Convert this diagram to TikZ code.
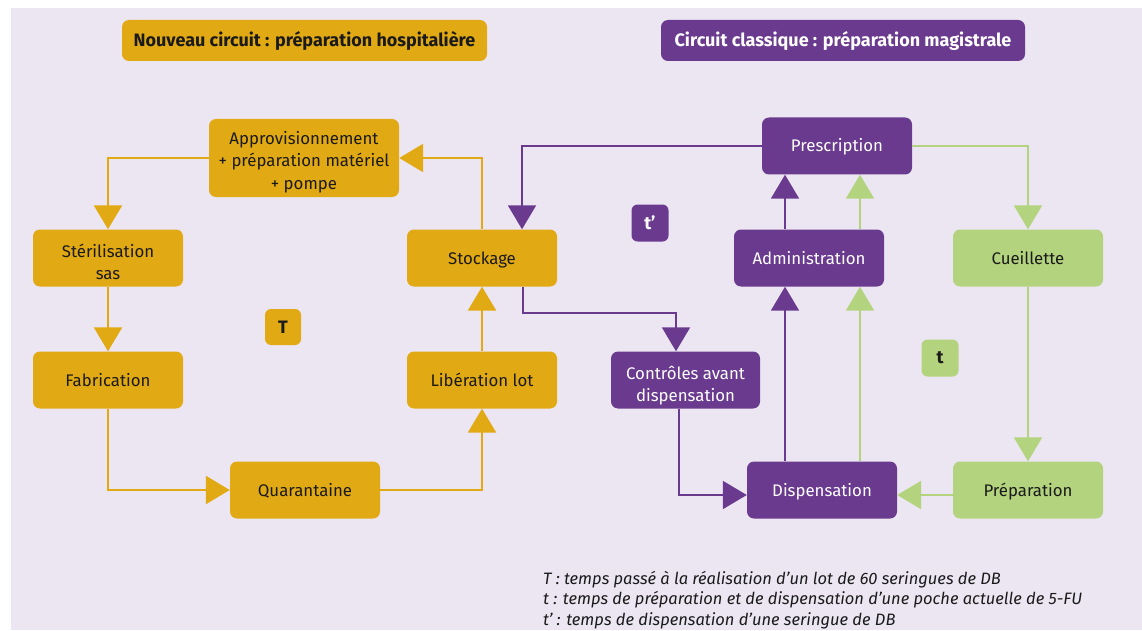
\documentclass[tikz,border=0pt]{standalone}
\usepackage{fontspec}
\setmainfont{Fira Sans}
\usetikzlibrary{arrows.meta}
\definecolor{bgcol}{HTML}{ECE6F2}
\definecolor{ycol}{HTML}{E1A913}
\definecolor{pcol}{HTML}{6A3A8F}
\definecolor{gcol}{HTML}{B3D37E}
\definecolor{txt}{HTML}{1A1A1A}
\newcommand{\upstrut}[1]{\rule{0pt}{#1}}
\newcommand{\dnstrut}{\rule[-5pt]{0pt}{5pt}}
\tikzset{
  box/.style={rounded corners=7pt, minimum width=150pt, minimum height=57pt, align=center, inner sep=0pt, font=\fontsize{16.8}{22.5}\selectfont},
  ybox/.style={box, fill=ycol, text=txt},
  pbox/.style={box, fill=pcol, text=white},
  gbox/.style={box, fill=gcol, text=txt},
  tag/.style={rounded corners=6pt, minimum width=37pt, minimum height=37pt, inner sep=0pt, font=\fontsize{18}{20}\selectfont\bfseries},
  titlebox/.style={rounded corners=7pt, minimum width=365pt, minimum height=41pt, inner sep=0pt, font=\fontsize{18}{20}\selectfont\bfseries},
  yline/.style={draw=ycol, line width=2.5pt, -{Triangle[length=24pt,width=28pt]}, color=ycol},
  pline/.style={draw=pcol, line width=2pt, -{Triangle[length=24pt,width=28pt]}, color=pcol},
  gline/.style={draw=gcol, line width=2.5pt, -{Triangle[length=24pt,width=28pt]}, color=gcol},
  note/.style={anchor=west, inner sep=0pt, text=txt, font=\fontsize{16.5}{20}\selectfont\itshape}
}
\begin{document}
\begin{tikzpicture}[x=1pt,y=-1pt]
\useasboundingbox (0,0) rectangle (1142,631);
\fill[bgcol] (11,8) rectangle (1142,630);
% titles
\node[titlebox, fill=ycol, text=txt] (t1) at (304.5,40.5) {Nouveau circuit : préparation hospitalière};
\node[titlebox, fill=pcol, text=white, minimum width=364pt] (t2) at (843,40.5) {Circuit classique : préparation magistrale};
% left circuit
\node[ybox, minimum width=190pt, minimum height=78pt] (appro) at (304,158) {\upstrut{22.4pt}Approvisionnement\\+ préparation matériel\\+ pompe\dnstrut};
\node[ybox] (steril) at (108,258) {\upstrut{25.5pt}Stérilisation\\sas\dnstrut};
\node[ybox] (stock) at (482,258) {\upstrut{17pt}Stockage\dnstrut};
\node[ybox] (fab) at (108,380) {\upstrut{17pt}Fabrication\dnstrut};
\node[ybox] (lib) at (482,380) {\upstrut{17pt}Libération lot\dnstrut};
\node[ybox] (quar) at (305,490) {\upstrut{17pt}Quarantaine\dnstrut};
\node[tag, fill=ycol, text=txt, minimum width=36pt, minimum height=36pt] (T) at (283,327) {T};
% right circuit
\node[pbox] (presc) at (837,146) {\upstrut{17pt}Prescription\dnstrut};
\node[pbox] (admin) at (809,258) {\upstrut{17pt}Administration\dnstrut};
\node[gbox] (cueil) at (1028,258) {\upstrut{17pt}Cueillette\dnstrut};
\node[pbox, minimum width=149pt] (ctrl) at (685.5,380) {\upstrut{25.5pt}Contrôles avant\\dispensation\dnstrut};
\node[pbox] (disp) at (822,490) {\upstrut{17pt}Dispensation\dnstrut};
\node[gbox] (prep) at (1028,490) {\upstrut{17pt}Préparation\dnstrut};
\node[tag, fill=pcol, text=white] (tp) at (650,223) {t'};
\node[tag, fill=gcol, text=txt] (tt) at (940,358) {t};
% yellow connectors
\draw[yline] (stock.north) |- (appro.east);
\draw[yline] (appro.west) -| (steril.north);
\draw[yline] (steril) -- (fab);
\draw[yline] (fab.south) |- (quar.west);
\draw[yline] (quar.east) -| (lib.south);
\draw[yline] (lib) -- (stock);
% purple connectors
\draw[pline] (presc.west) -| ([xshift=40pt]stock.north);
\draw[pline] ([xshift=41pt]stock.south) -- ++(0,26) -| ([xshift=-9.5pt]ctrl.north);
\draw[pline] ([xshift=-6.5pt]ctrl.south) |- ([yshift=-5pt]disp.west);
\draw[pline] ([xshift=-37pt]disp.north) -- ([xshift=-24pt]admin.south);
\draw[pline] ([xshift=-24pt]admin.north) -- ([xshift=-52pt]presc.south);
% green connectors
\draw[gline] ([xshift=38pt]disp.north) -- ([xshift=51pt]admin.south);
\draw[gline] ([xshift=51pt]admin.north) -- ([xshift=23pt]presc.south);
\draw[gline] (presc.east) -| (cueil.north);
\draw[gline] (cueil) -- (prep);
\draw[gline] ([yshift=-5pt]prep.west) -- ([yshift=-5pt]disp.east);
% notes
\node[note] (n1) at (543,579.5) {T : temps passé à la réalisation d’un lot de 60 seringues de DB};
\node[note] (n2) at (543,600) {t : temps de préparation et de dispensation d’une poche actuelle de 5-FU};
\node[note] (n3) at (543,621) {t’ : temps de dispensation d’une seringue de DB};
\end{tikzpicture}
\end{document}
